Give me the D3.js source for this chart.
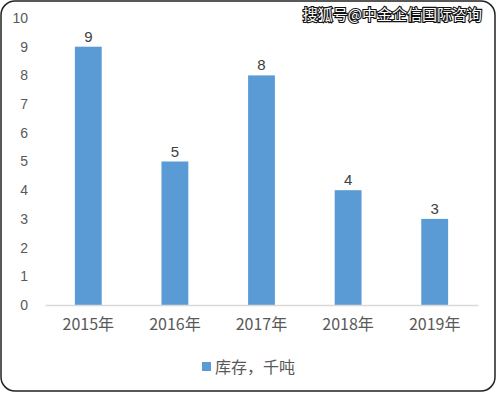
<!DOCTYPE html>
<html>
<head>
<meta charset="utf-8">
<script src="https://cdn.jsdelivr.net/npm/d3@7"></script>
<style>
  body { margin: 0; background: #fff; }
  text { font-family: "Noto Sans CJK SC", "Liberation Sans", sans-serif; }
</style>
</head>
<body>
<script>
// chart data
var years = ["2015年", "2016年", "2017年", "2018年", "2019年"];
var stock = [9, 5, 8, 4, 3];
var yTicks = [0, 1, 2, 3, 4, 5, 6, 7, 8, 9, 10];
var seriesName = "库存，千吨";
var watermark = "搜狐号@中金企信国际咨询";

var W = 497, H = 393;
var margin = {top: 18, left: 45, right: 19, bottom: 88};

var svg = d3.select("body").append("svg")
    .attr("width", W)
    .attr("height", H);

// outer frame
svg.append("rect")
    .attr("x", 1).attr("y", 1)
    .attr("width", W - 3).attr("height", H - 3)
    .attr("rx", 14)
    .style("fill", "#fff")
    .style("stroke", "#222")
    .style("stroke-width", 1.5);

var x = d3.scaleBand().domain(years)
    .range([margin.left, W - margin.right])
    .paddingInner(0.69).paddingOuter(0.345);
var y = d3.scaleLinear().domain([0, 10])
    .range([305, 18]);

// y labels
svg.append("g")
    .attr("transform", "translate(28,0)")
    .call(d3.axisLeft(y).tickValues(yTicks).tickSize(0).tickPadding(0))
    .call(g => g.select(".domain").remove())
    .selectAll("text")
    .style("font-size", "14px")
    .style("fill", "#595959")
    .style("font-family", "'Liberation Sans', sans-serif");

// bars
svg.selectAll("rect.bar")
    .data(stock)
  .enter().append("rect")
    .attr("class", "bar")
    .attr("x", (d, i) => x(years[i]))
    .attr("width", x.bandwidth())
    .attr("y", d => y(d))
    .attr("height", d => y(0) - y(d))
    .style("fill", "#5b9bd5");

// value labels
svg.selectAll("text.val")
    .data(stock)
  .enter().append("text")
    .attr("class", "val")
    .attr("x", (d, i) => x(years[i]) + x.bandwidth() / 2)
    .attr("y", d => y(d) - 5)
    .attr("text-anchor", "middle")
    .style("font-size", "15px")
    .style("fill", "#404040")
    .style("font-family", "'Liberation Sans', sans-serif")
    .text(d => d);

// x axis
var xAxis = svg.append("g")
    .attr("transform", "translate(0," + y(0) + ")")
    .call(d3.axisBottom(x).tickSize(0).tickPadding(14));
xAxis.select(".domain").style("stroke", "#d9d9d9").style("stroke-width", 1.5);
xAxis.selectAll("text")
    .style("font-size", "16px")
    .style("fill", "#595959");

// legend
var legend = svg.append("g").attr("transform", "translate(202,367)");
legend.append("rect")
    .attr("x", 0).attr("y", -5)
    .attr("width", 9).attr("height", 9)
    .style("fill", "#5b9bd5");
legend.append("text")
    .attr("x", 13).attr("y", 0)
    .attr("dy", "0.35em")
    .style("font-size", "16px")
    .style("fill", "#595959")
    .text(seriesName);

// watermark
svg.append("text")
    .attr("x", 482).attr("y", 20)
    .attr("text-anchor", "end")
    .style("font-size", "15px")
    .style("fill", "#fff")
    .style("stroke", "#111")
    .style("stroke-width", 2.2)
    .style("paint-order", "stroke")
    .text(watermark);
</script>
</body>
</html>
